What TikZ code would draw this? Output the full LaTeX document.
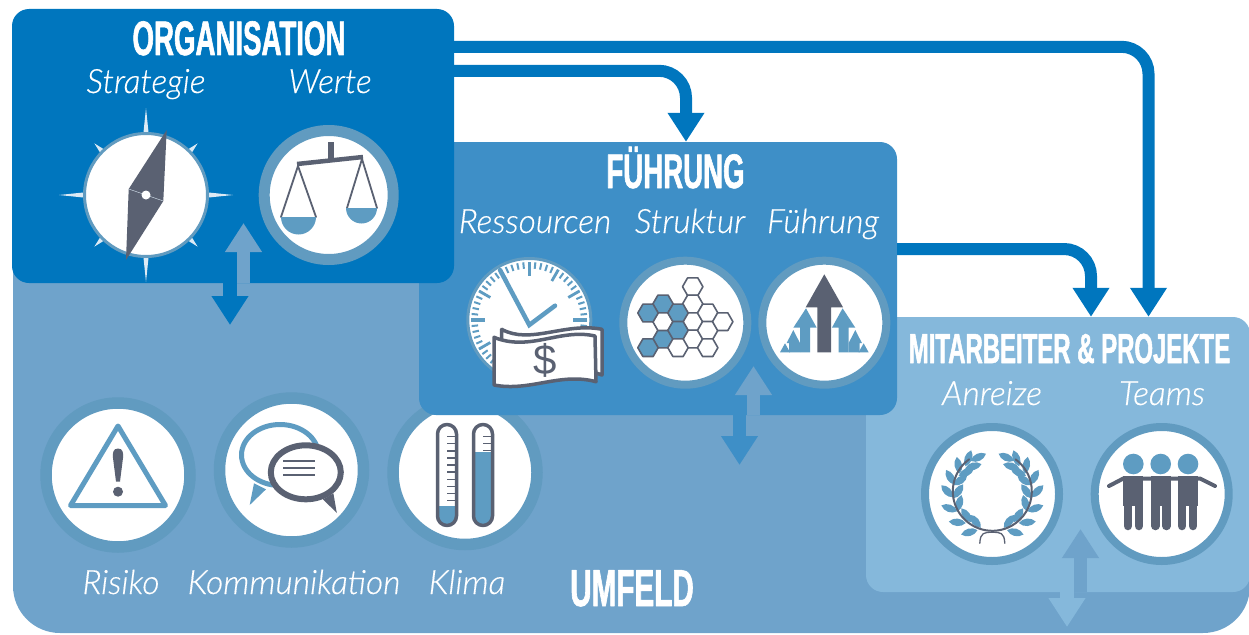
\documentclass[tikz,border=0pt]{standalone}
\usepackage{fontspec}
\usetikzlibrary{arrows.meta}
\setmainfont{Liberation Sans}
\newfontfamily\titlefont[FakeStretch=0.57,FakeBold=1.2]{Liberation Sans Bold}
\newfontfamily\sublabelfont[FakeBold=0.4]{Lato Light Italic}
\definecolor{orgablue}{HTML}{0076BE}
\definecolor{fuehrungblue}{HTML}{3E8FC7}
\definecolor{mitarbeiterblue}{HTML}{85B8DB}
\definecolor{umfeldblue}{HTML}{6FA3CB}
\definecolor{ringblue}{HTML}{619BC0}
\definecolor{iconblue}{HTML}{5E9CC2}
\definecolor{icondark}{HTML}{5A6172}
\definecolor{rayblue}{HTML}{DCEAF5}
\tikzset{
panel/.style={rectangle,rounded corners=17pt,inner sep=0pt},
ring/.style={circle,draw=ringblue,fill=white,inner sep=0pt},
flow/.style={->,line width=12pt,line cap=butt,line join=miter,color=orgablue,rounded corners=27pt},
dbl/.style={->,line width=13.5pt,line cap=butt},
titletext/.style={text=white,font=\titlefont\fontsize{#1}{#1}\selectfont,anchor=base},
sublabel/.style={text=white,font=\sublabelfont\fontsize{33.5}{33.5}\selectfont,anchor=base}
}
\begin{document}
\begin{tikzpicture}[line cap=round,line join=round,>={Triangle[width=35pt,length=29pt]},x=1pt,y=-1pt]
\useasboundingbox (0,0) rectangle (1249,634);
\fill[umfeldblue] (13,250) -- (880,250) -- (880,330) -- (1250,330) [rounded corners=47pt] -- (1250,633) -- (13,633) [sharp corners] -- (13,250) -- cycle;
\foreach \nm/\cx/\cy in {risiko/118/475,kommunikation/291.5/470,klima/465/472.5}
\node[ring,line width=11.5pt,minimum size=144pt] (\nm ring) at (\cx,\cy) {};
\node[panel,fill=mitarbeiterblue,minimum width=384pt,minimum height=275pt] (mitarbeiter) at (1058,454.5) {};
\node[panel,fill=fuehrungblue,minimum width=478pt,minimum height=273pt] (fuehrung) at (658,278.5) {};
\node[panel,fill=orgablue,minimum width=442pt,minimum height=274pt] (orga) at (233,146) {};
\draw[flow] ([yshift=-38pt]orga.north east) -| ([xshift=90.5pt]mitarbeiter.north);
\draw[flow] ([yshift=-62pt]orga.north east) -| ([xshift=28pt]fuehrung.north);
\draw[flow] ([yshift=29.5pt]fuehrung.east) -| ([xshift=33pt]mitarbeiter.north);
\foreach \pn/\ux/\uy/\dx/\dy/\pc in {orga/243.5/223/230/325/orgablue,fuehrung/753.5/366/739.5/465/fuehrungblue,mitarbeiter/1080.5/529/1067/627/mitarbeiterblue}{
\coordinate (\pn up) at (\ux,\uy);
\coordinate (\pn down) at (\dx,\dy);
\draw[dbl,color=umfeldblue] (\pn.south -| \pn up) -- (\pn up);
\draw[dbl,color=\pc] (\pn.south -| \pn down) -- (\pn down);
}
\node[titletext=48.5] (orgatitle) at (239,55) {ORGANISATION};
\node[titletext=48.5] (fuehrungtitle) at (675.5,188) {FÜHRUNG};
\node[titletext=42] (mitarbeitertitle) at (1069.5,363) {MITARBEITER \& PROJEKTE};
\node[titletext=52] (umfeldtitle) at (632,606) {UMFELD};
\foreach \nm/\lx/\ly/\tx in {strategie/146/93/Strategie,werte/330/93/Werte,ressourcen/535/233/Ressourcen,struktur/690/233/Struktur,fuehrunglabel/823/233/Führung,anreize/992/405/Anreize,teams/1162/405/Teams,risiko/121/594/Risiko,kommunikation/294/594/Kommunikation,klima/467/594/Klima}
\node[sublabel] (\nm) at (\lx,\ly) {\tx};
\foreach \a in {0,90,180,270}
\fill[rayblue,shift={(146,195)},rotate=\a] (58,-3) -- (87,0) -- (58,3) -- cycle;
\foreach \a in {45,135,225,315}
\fill[rayblue,shift={(146,195)},rotate=\a] (58,-3.5) -- (73,0) -- (58,3.5) -- cycle;
\node[ring,line width=3pt,minimum size=123pt] (kompass) at (146,195) {};
\fill[icondark] (166.7,130) -- (128.7,189) -- (126,260) -- (163.3,201) -- cycle;
\draw[rayblue,line width=0.4pt] (128.7,189) -- (163.3,201);
\fill[white] (146,195) circle[radius=4.5];
\node[ring,line width=11pt,minimum size=129pt] (waage) at (328.7,195) {};
\draw[icondark,line width=6pt,line cap=butt] (330.5,142) -- (330.5,160);
\draw[icondark,line width=4.5pt,line cap=butt] (297,164) -- (363,157);
\draw[icondark,line width=1.8pt] (281,217) -- (298,166) -- (316,217);
\draw[icondark,line width=1.8pt] (347,208) -- (362,159) -- (377,208);
\fill[iconblue] (316,217) arc[start angle=0,end angle=180,radius=17.5] -- cycle;
\fill[iconblue] (377,208) arc[start angle=0,end angle=180,radius=15.5] -- cycle;
\node[ring,line width=3pt,minimum size=123pt] (uhr) at (529.3,320) {};
\foreach \a in {0,6,...,354}
\draw[iconblue,line width=2pt,line cap=butt] (529.3,320) ++(\a:58) -- ++(\a:-6.5);
\foreach \a in {30,60,...,330}
\draw[iconblue,line width=2.8pt,line cap=butt] (529.3,320) ++(\a:58) -- ++(\a:-13);
\foreach \a in {0,90,180,270}
\draw[iconblue,line width=3.5pt,line cap=butt] (529.3,320) ++(\a:58) -- ++(\a:-14);
\draw[iconblue,line width=4.5pt,line join=miter] (500,270) -- (529.3,325) -- (555,305.7);
\draw[icondark,line width=3.5pt,fill=white] (501.7,329.3) .. controls (530,345) and (565,322) .. (602,329.3) -- (602,375) -- (590,371) -- (501.7,371) -- cycle;
\draw[icondark,line width=3.5pt,fill=white] (494,337.3) .. controls (530,352) and (560,328) .. (595,336) -- (596,381.7) .. controls (560,372) and (530,392) .. (494,385) -- cycle;
\node[text=icondark,font=\fontsize{42}{42}\selectfont] (dollar) at (545,360) {\$};
\node[ring,line width=8pt,minimum size=124pt] (strukturring) at (685.3,322.7) {};
\foreach \hx/\hy/\hc in {692.7/286.7/white,692.7/304/white,692.7/321.7/white,692.7/339/white,663/304/iconblue,663/339/iconblue,663/321.7/white,648/313/iconblue,648/347.7/iconblue,678/313/iconblue,678/330.3/iconblue,678/347.7/white,707.7/313/white,707.7/330.3/white,707.7/347.7/white,722.7/321.7/white}
\draw[icondark,line width=1.6pt,fill=\hc] (\hx,\hy) ++(10.2,0) -- ++(120:10.2) -- ++(180:10.2) -- ++(240:10.2) -- ++(300:10.2) -- ++(0:10.2) -- cycle;
\node[ring,line width=8pt,minimum size=124pt] (pfeile) at (824.3,322.7) {};
\foreach \s in {-1,1}{
\begin{scope}[shift={(824.3,0)},xscale=\s]
\fill[iconblue] (18.3,308.3) -- (31,327.7) -- (24.3,327.7) -- (24.3,352.3) -- (14.3,352.3) -- (14.3,327.7) -- (7.6,327.7) -- cycle;
\fill[iconblue] (31,330) -- (37.6,343) -- (35.3,343) -- (35.3,352.3) -- (24.3,352.3) -- (24.3,343) -- (24.4,343) -- cycle;
\fill[iconblue] (39.3,343.3) -- (44.3,352.3) -- (34.3,352.3) -- cycle;
\end{scope}
}
\fill[icondark] (824.3,274.3) -- (843,307.3) -- (831,307.3) -- (831,352.3) -- (817.3,352.3) -- (817.3,307.3) -- (805.7,307.3) -- cycle;
\node[ring,line width=8pt,minimum size=134pt] (lorbeer) at (992,494) {};
\node[ring,line width=8pt,minimum size=134pt] (team) at (1161.7,494) {};
\begin{scope}[shift={(992.3,491.3)}]
\foreach \s in {-1,1}{
\begin{scope}[xscale=\s]
\foreach \lx/\ly/\la in {-14/-34/25,-24/-33/70,-34/-26/100,-42/-14/120,-45/0/135,-43/17/160,-35/31/175,-23/41/195,-19/-25/15,-26/-19/25,-32/-11/35,-34/0/55,-33/12/75,-26/24/125,-17/30/130}
\fill[iconblue,shift={(\lx,\ly)},rotate=\la] (-8.5,0) .. controls (-4,5) and (4,5) .. (8.5,0) .. controls (4,-5) and (-4,-5) .. (-8.5,0) -- cycle;
\end{scope}
}
\draw[icondark,line width=2pt] (234:39.5) arc[start angle=234,end angle=-54,radius=39.5];
\draw[icondark,line width=1.3pt] (-12.5,52) .. controls (-12,41) and (-8,41) .. (0,41) .. controls (8,41) and (12,41) .. (12.5,52);
\end{scope}
\foreach \hx in {1133.3,1160.7,1188}
\fill[iconblue] (\hx,464) circle[radius=10.3];
\draw[icondark,line width=4pt] (1109,486) -- (1123.3,478.5) -- (1200,478.5) -- (1215,486);
\foreach \bx in {1133.3,1160.9,1187.5}{
\fill[icondark] (\bx-10,476) rectangle (\bx+10,506);
\draw[icondark,line width=8.5pt] (\bx-5.5,505) -- (\bx-5.5,526);
\draw[icondark,line width=8.5pt] (\bx+5.5,505) -- (\bx+5.5,526);
}
\draw[iconblue,line width=5pt,line join=round] (118,426) -- (70.5,505.5) -- (165.5,505.5) -- cycle;
\fill[icondark] (118,448.5) .. controls (123,448.5) and (123.5,453) .. (123,458) -- (120,481.5) -- (116,481.5) -- (113,458) .. controls (112.5,453) and (113,448.5) .. (118,448.5) -- cycle;
\fill[icondark] (118,491.7) circle[radius=5];
\fill[iconblue] (254,483.3) -- (249.7,505) -- (266,489.3) -- cycle;
\draw[iconblue,line width=5pt,fill=white] (280,455) circle[x radius=38.5,y radius=30.5];
\fill[icondark] (323,499.3) -- (336.8,513) -- (333.4,493.3) -- cycle;
\draw[icondark,line width=6pt,fill=white] (305.8,472.3) circle[x radius=35,y radius=27];
\foreach \ly in {461,467.7,475}
\draw[icondark,line width=1.6pt,line cap=butt] (283.4,\ly) -- (315,\ly);
\foreach \tx/\ty in {447/506,483/451.7}{
\fill[iconblue] (\tx-9.5,\ty) rectangle (\tx+9.5,517);
\fill[iconblue] (\tx-9.5,517) arc[start angle=180,end angle=0,radius=9.5] -- cycle;
\draw[icondark,line width=3.5pt] (\tx-9.5,434) arc[start angle=180,end angle=360,radius=9.5] -- (\tx+9.5,516) arc[start angle=0,end angle=180,radius=9.5] -- cycle;
}
\foreach \ty in {436.7,443.7,450.8,457.9,465,472.1,479.2,486.3,493.4,500.5}
\draw[icondark,line width=1.4pt,line cap=butt] (447,\ty) -- (456,\ty);
\foreach \ty in {436.7,443.3,450.7}
\draw[icondark,line width=1.4pt,line cap=butt] (483,\ty) -- (492,\ty);
\end{tikzpicture}
\end{document}
